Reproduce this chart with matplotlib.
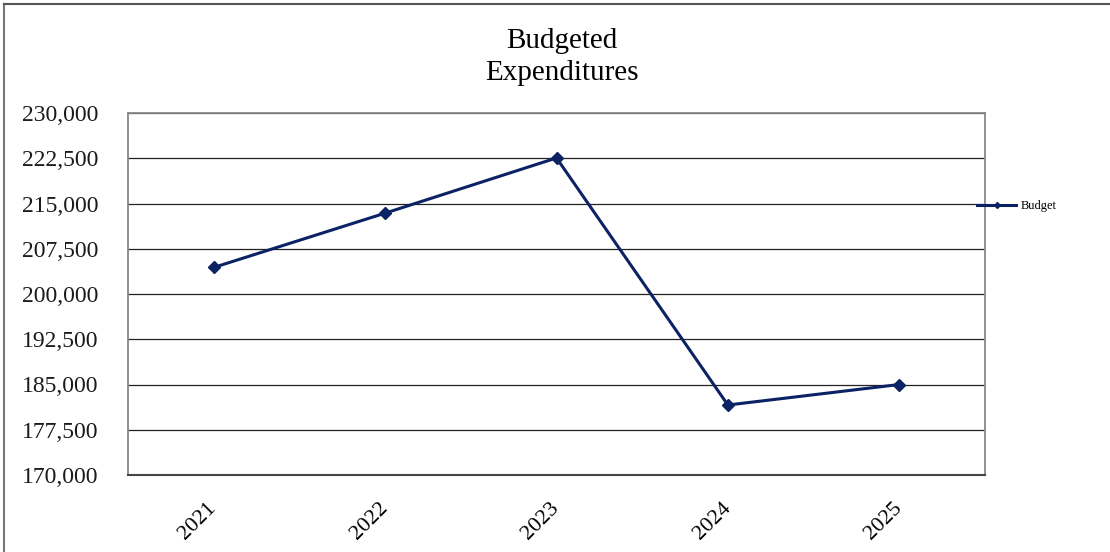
import matplotlib
matplotlib.use('Agg')
import matplotlib.pyplot as plt
from matplotlib.lines import Line2D
from matplotlib.ticker import FuncFormatter

years = ['2021', '2022', '2023', '2024', '2025']
budget = [204400, 213400, 222550, 181600, 185000]
y_ticks = [170000, 177500, 185000, 192500, 200000, 207500, 215000, 222500, 230000]

plt.rcParams['font.family'] = ['Liberation Serif', 'DejaVu Serif']

fig = plt.figure(figsize=(11.1, 5.52), dpi=100)
ax = fig.add_axes([128 / 1110, 1 - 475 / 552, 857 / 1110, 362 / 552])

x = list(range(len(years)))
line, = ax.plot(x, budget, color='#0b2265', linewidth=2.2, marker='D', markersize=6,
                label='Budget')

ax.set_xlim(-0.5, len(years) - 0.5)
ax.set_ylim(y_ticks[0], y_ticks[-1])
ax.set_yticks(y_ticks)
ax.yaxis.set_major_formatter(FuncFormatter(lambda v, p: '{:,.0f}'.format(v)))
ax.set_xticks(x)
ax.set_xticklabels(years, rotation=45, ha='right', va='center', rotation_mode='anchor')
ax.tick_params(axis='y', length=0, pad=21, labelsize=17, labelcolor='#1a1a1a')
ax.tick_params(axis='x', length=0, pad=22, labelsize=16)
ax.grid(axis='y', color='#222222', linewidth=0.9)
ax.set_axisbelow(True)
for s in ['top', 'left', 'right']:
    ax.spines[s].set_color('#888888')
    ax.spines[s].set_linewidth(1.3)
ax.spines['bottom'].set_color('#444444')
ax.spines['bottom'].set_linewidth(1.5)

fig.text(562 / 1110, 1 - 57 / 552, 'Budgeted\nExpenditures', ha='center', va='center',
         fontsize=21, linespacing=1.3)

leg = fig.legend(handles=[line], loc='center left', bbox_to_anchor=(966 / 1110, 1 - 206 / 552),
                 frameon=False, fontsize=9, handlelength=3.1, handletextpad=0.4,
                 markerscale=0.5)

# outer frame (top and left only visible)
fig.add_artist(Line2D([4 / 1110, 4 / 1110], [0, 1 - 4 / 552], transform=fig.transFigure,
                      color='#777777', linewidth=1.5))
fig.add_artist(Line2D([4 / 1110, 1], [1 - 4 / 552, 1 - 4 / 552], transform=fig.transFigure,
                      color='#555555', linewidth=1.5))

fig.savefig('out.png', dpi=100)
